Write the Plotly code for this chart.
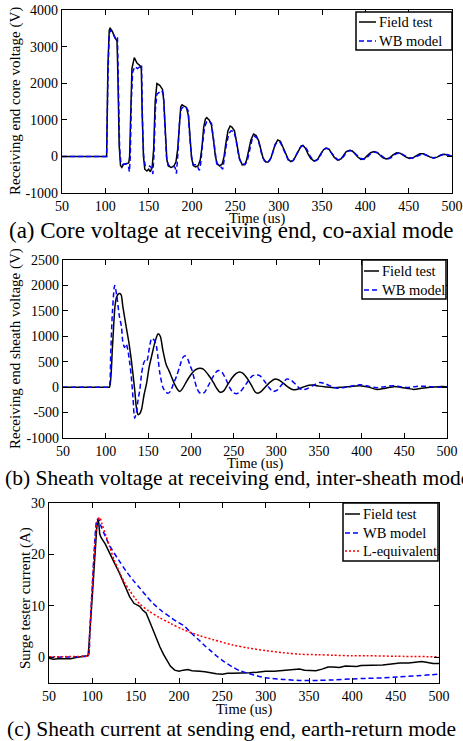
import plotly.graph_objects as go

# ---------------- Panel (a): core voltage, co-axial mode ----------------
a_field_t = [50, 101.5, 103, 104.5, 105.5, 108, 111, 113.5, 114.5, 116, 117.5, 119, 121, 124, 127, 128, 129.5, 130.7, 133.4, 136.5, 140, 141.5, 142.5, 144, 145.5, 148, 150, 152, 154, 155.8, 157.5, 159.5, 162.8, 166, 167.5, 169.3, 171, 173, 176, 179, 181.5, 183.5, 185.5, 187, 188.5, 191, 193.5, 196, 197.5, 199.5, 201.5, 204, 207, 209.5, 211.5, 213.5, 215.5, 217, 220, 222.5, 225, 227, 229, 232, 235, 237, 239, 241.5, 244, 246, 249, 251, 253, 255, 258, 261, 263, 265.5, 268, 271, 274, 277, 279.5, 282, 285, 288, 291, 293.5, 296, 299, 302, 305, 308, 311, 314, 317, 320, 323, 326, 328, 331, 334, 337, 341, 345, 348, 352, 355, 358, 361, 364, 368, 372, 375, 378, 382, 385, 388, 391, 395, 399, 402, 406, 410, 414, 417, 420, 424, 428, 432, 436, 440, 444, 447, 451, 455, 459, 463, 467, 471, 475, 479, 483, 487, 491, 495, 500]
a_field_v = [0, 0, 2500, 3450, 3500, 3420, 3250, 3150, 2200, 300, -250, -300, -220, -200, -180, 0, 1500, 2400, 2700, 2550, 2480, 2400, 1200, 0, -350, -400, -350, -420, -300, 200, 1500, 1990, 1940, 1830, 1500, 600, -100, -270, -300, -270, -150, 200, 1000, 1350, 1410, 1380, 1340, 1100, 500, -50, -250, -290, -260, -100, 250, 800, 1020, 1060, 990, 850, 400, 0, -200, -260, -200, 0, 350, 700, 830, 800, 700, 450, 150, -80, -230, -220, -100, 150, 450, 610, 570, 420, 150, -50, -150, -150, -50, 150, 330, 450, 410, 250, 60, -80, -140, -110, 20, 180, 290, 300, 220, 60, -60, -130, -80, 50, 190, 230, 200, 90, -20, -100, -70, 30, 130, 170, 150, 70, -10, -80, -60, 20, 100, 130, 100, 30, -30, -70, -40, 40, 100, 90, 30, -20, -55, -40, 20, 75, 70, 20, -20, -45, -20, 40, 60, 40, 0]

a_wb_t = [50, 101.5, 103, 104.5, 106, 109, 112, 114, 115, 116.5, 118, 120, 124, 126.5, 127.8, 128.8, 130, 131.5, 134, 137, 140, 141.8, 142.8, 144.2, 146, 150, 153, 154.8, 156, 157.8, 159.5, 162.5, 165, 167, 168.8, 170.5, 172.5, 177, 180.5, 182, 183.5, 185.5, 187.5, 190, 193, 195.5, 197.5, 199.5, 201.5, 205, 208.5, 210, 212, 214.5, 217, 220, 222.5, 224.5, 226.5, 228.5, 232, 235.5, 237, 239.5, 242.5, 245, 248, 250.5, 252.5, 254.5, 257.5, 261, 263.5, 266.5, 269.5, 272, 275, 277.5, 280.5, 283.5, 286.5, 289.5, 292.5, 296, 299, 302, 305, 308, 311, 314, 317, 320, 324, 327, 330, 333, 336, 340, 343, 347, 350, 354, 357, 360, 364, 368, 371, 375, 379, 383, 386, 390, 394, 398, 402, 406, 410, 414, 418, 422, 426, 430, 434, 438, 442, 446, 450, 454, 458, 462, 466, 470, 474, 478, 482, 486, 490, 494, 498, 500]
a_wb_v = [0, 0, 2200, 3350, 3450, 3350, 3200, 3250, 2000, 200, -200, -220, -200, -250, -420, 0, 1500, 2300, 2450, 2400, 2450, 2500, 1000, 0, -250, -250, -300, -480, 0, 1300, 1700, 1750, 1800, 1700, 800, 0, -250, -250, -300, -470, 0, 900, 1300, 1350, 1350, 1250, 500, 0, -230, -230, -380, -200, 300, 800, 950, 950, 900, 500, 50, -200, -250, -350, -100, 300, 620, 700, 680, 500, 200, -50, -200, -220, -150, 200, 480, 550, 510, 350, 50, -120, -150, -120, 50, 320, 400, 380, 230, 50, -100, -150, -100, 30, 220, 290, 280, 170, 20, -110, -120, -40, 120, 220, 210, 120, 0, -90, -90, 0, 130, 160, 130, 40, -50, -80, -30, 70, 120, 100, 30, -40, -70, -30, 50, 90, 70, 10, -40, -50, -10, 50, 70, 40, -10, -40, -30, 20, 60, 50, 10, 0]

# ---------------- Panel (b): sheath voltage, inter-sheath mode ----------------
b_field_t = [50, 100, 103, 104.5, 108, 111, 113, 115.7, 118, 120, 124, 127, 130, 134, 136, 138, 140, 142, 145, 148, 151, 154, 158, 161.5, 164, 167, 171, 174, 177, 181, 185, 187, 190, 195, 200, 205, 210, 214, 220, 226, 230, 234, 238, 243, 248, 253, 257, 261, 266, 271, 275, 278, 282, 287, 292, 298, 303, 308, 313, 318, 322, 327, 333, 338, 343, 350, 358, 368, 378, 388, 398, 408, 418, 428, 438, 445, 453, 461, 470, 480, 490, 500]
b_field_v = [0, 0, 0, 0, 800, 1600, 1780, 1840, 1820, 1600, 1190, 900, 540, -50, -400, -540, -520, -440, -150, 80, 400, 620, 900, 1050, 1000, 730, 440, 330, 210, 50, -60, -85, -30, 120, 250, 340, 373, 360, 250, 100, -20, -100, -80, 50, 180, 270, 300, 270, 170, 30, -90, -118, -90, 0, 90, 157, 140, 80, 10, -40, -52, -30, 10, 35, 40, 20, 5, -10, 0, 15, 26, 0, -45, -20, 10, 0, -20, -45, -20, 0, 10, 10]

b_wb_t = [50, 100, 102.5, 104, 106, 108, 110.6, 113, 116, 118.5, 120, 122, 124, 126, 128, 130, 132, 134, 136, 138, 140, 142, 144, 146, 148, 151, 154, 157, 159.5, 161.5, 163.5, 167, 170, 173, 176, 179, 183, 187, 190, 193, 196, 199, 201, 204, 206.5, 209, 212, 216, 220, 225, 229, 232, 236, 241, 245, 249, 253, 257, 262, 267, 272, 277, 281, 286, 291, 296, 301, 306, 312, 317, 323, 327, 330, 336, 343, 351, 358, 365, 371, 378, 387, 398, 408, 418, 427, 437, 445, 453, 462, 470, 480, 490, 500]
b_wb_v = [0, 0, 0, 0, 700, 1500, 2000, 1800, 1400, 1190, 900, 780, 850, 730, 500, 210, -200, -610, -500, -250, -50, 250, 440, 520, 500, 750, 960, 920, 800, 550, 275, 0, -90, -120, -80, 50, 210, 420, 570, 615, 560, 420, 340, 150, 0, -90, -130, -100, 20, 180, 290, 327, 300, 150, 0, -100, -130, -100, 0, 120, 220, 245, 220, 120, 0, -85, -60, 40, 157, 140, 50, -20, -52, -30, 30, 92, 60, 10, -20, -10, 20, 46, 20, -10, 10, 26, 10, -5, 10, 20, 10, 0, 0]

# ---------------- Panel (c): sheath current, earth-return mode ----------------
c_field_t = [50, 55, 60, 65, 70, 75, 80, 85, 90, 95, 96, 100, 103, 105, 106.5, 107.5, 108.5, 110, 115, 120, 125, 131.5, 137, 143, 148, 154.6, 158, 162, 166, 170, 174, 178, 182, 185, 190, 195, 200, 205, 210, 215, 220, 224, 230, 236, 243, 250, 256, 262, 270, 281.5, 290, 300, 310, 320, 330, 339, 345, 352, 358, 365, 372, 378, 385, 392, 397, 405, 410, 416, 425, 435, 445, 455, 465, 474, 480, 487, 493, 500]
c_field_i = [-0.2, -0.4, -0.3, -0.3, -0.2, -0.3, -0.1, 0.1, 0.2, 0.3, 2, 12, 20, 25, 26.8, 26, 24, 23.3, 22, 20.4, 18.5, 16.3, 14, 11.8, 10.5, 9.9, 9.2, 8.6, 7, 5.2, 3.5, 2, 0.6, -0.3, -1.7, -2.5, -2.7, -2.5, -2.4, -2.6, -2.6, -2.7, -2.8, -3, -3.2, -3.3, -3.1, -3.1, -3.0, -3.0, -2.9, -2.7, -2.7, -2.6, -2.5, -2.3, -2.5, -2.6, -2.6, -2.3, -1.9, -1.9, -2.0, -1.7, -1.7, -1.8, -1.6, -1.6, -1.5, -1.5, -1.3, -1.1, -1.1, -1.0, -0.8, -1.0, -1.2, -1.2]

c_wb_t = [50, 80, 90, 95, 97, 100, 103, 105, 107, 110, 115, 120, 130, 140, 147, 155, 162, 170, 180, 190, 197, 205, 212, 218, 224, 230, 237, 243, 250, 256, 262, 270, 281.5, 290, 300, 320, 339, 360, 378, 400, 416, 435, 455, 475, 490, 500]
c_wb_i = [0, 0.1, 0.15, 0.2, 5, 14, 23, 26.5, 27, 25.5, 23.5, 21.7, 19, 16.5, 15, 13.4, 12, 10.5, 9, 7.8, 7, 6.2, 5.1, 4.1, 3.2, 2.2, 1.2, 0.3, -0.6, -1.3, -1.9, -2.6, -3.2, -3.6, -4.0, -4.3, -4.5, -4.5, -4.4, -4.2, -4.1, -4.0, -3.8, -3.6, -3.4, -3.3]

c_leq_t = [50, 80, 90, 95, 97, 100, 103, 106, 108.5, 111, 115, 120, 125, 131.5, 137, 143, 150, 154.6, 165, 177.7, 190, 204.6, 224, 240, 262, 280, 300, 320, 339, 360, 378, 400, 416, 450, 500]
c_leq_i = [0.1, 0.15, 0.2, 0.3, 5, 14, 22, 26.5, 27.2, 26, 24, 21.5, 19, 16.5, 14.6, 13, 11.3, 10.4, 9, 7.7, 6.6, 5.4, 4.2, 3.4, 2.4, 1.8, 1.3, 0.9, 0.6, 0.5, 0.4, 0.3, 0.3, 0.2, 0.1]

# ---------------- Ticks / text ----------------
x_ticks = [50, 100, 150, 200, 250, 300, 350, 400, 450, 500]
a_yticks = [-1000, 0, 1000, 2000, 3000, 4000]
b_yticks = [-1000, -500, 0, 500, 1000, 1500, 2000, 2500]
c_yticks = [0, 10, 20, 30]
captions = ["(a) Core voltage at receiving end, co-axial mode",
            "(b) Sheath voltage at receiving end, inter-sheath mode",
            "(c) Sheath current at sending end, earth-return mode"]
ytitles = ["Receiving end core voltage (V)", "Receiving end sheath voltage (V)", "Surge tester current (A)"]
a_names = ["Field test", "WB model"]
b_names = ["Field test", "WB model"]
c_names = ["Field test", "WB model", "L-equivalent"]

W, H = 463, 741
FONT = "Times New Roman, Liberation Serif, serif"

def px(x):
    return x / W

def py(y):
    return 1 - y / H

BLACK = dict(color="black", width=1.5)
BLUE = dict(color="#0000FF", width=1.5, dash="5px,3px")
RED = dict(color="#FF0000", width=1.5, dash="2px,2px")

fig = go.Figure()
fig.add_trace(go.Scatter(x=a_field_t, y=a_field_v, mode="lines", line=BLACK, name=a_names[0], xaxis="x", yaxis="y"))
fig.add_trace(go.Scatter(x=a_wb_t, y=a_wb_v, mode="lines", line=BLUE, name=a_names[1], xaxis="x", yaxis="y"))
fig.add_trace(go.Scatter(x=b_field_t, y=b_field_v, mode="lines", line=dict(BLACK, shape="spline", smoothing=0.8), name=b_names[0], xaxis="x2", yaxis="y2"))
fig.add_trace(go.Scatter(x=b_wb_t, y=b_wb_v, mode="lines", line=dict(BLUE, shape="spline", smoothing=0.8), name=b_names[1], xaxis="x2", yaxis="y2"))
fig.add_trace(go.Scatter(x=c_field_t, y=c_field_i, mode="lines", line=BLACK, name=c_names[0], xaxis="x3", yaxis="y3"))
fig.add_trace(go.Scatter(x=c_wb_t, y=c_wb_i, mode="lines", line=dict(BLUE, shape="spline", smoothing=0.8), name=c_names[1], xaxis="x3", yaxis="y3"))
fig.add_trace(go.Scatter(x=c_leq_t, y=c_leq_i, mode="lines", line=dict(RED, shape="spline", smoothing=0.8), name=c_names[2], xaxis="x3", yaxis="y3"))

def axis_common():
    return dict(showline=True, linecolor="black", linewidth=1.3, mirror="ticks",
                ticks="inside", ticklen=5, tickcolor="black", showgrid=False,
                zeroline=False, automargin=False, fixedrange=True,
                tickfont=dict(family=FONT, size=14, color="black"))

# pixel boxes of the plot areas: (left, right, top, bottom)
boxes = [(62, 452, 10, 193), (63, 447, 260, 438), (49, 439, 503, 683)]
yranges = [[-1000, 4000], [-1000, 2500], [-5, 30]]
yticks = [a_yticks, b_yticks, c_yticks]

layout = dict(width=W, height=H, margin=dict(l=0, r=0, t=0, b=0, pad=0), autosize=False,
              paper_bgcolor="white", plot_bgcolor="white", showlegend=False,
              template="none", font=dict(family=FONT, color="black"))
for i, (l, r, t, b) in enumerate(boxes):
    sfx = "" if i == 0 else str(i + 1)
    xa = axis_common()
    xa.update(domain=[px(l), px(r)], range=[50, 500], tickvals=x_ticks,
              ticktext=[str(v) for v in x_ticks], anchor="y" + sfx)
    ya = axis_common()
    ya.update(domain=[py(b), py(t)], range=yranges[i], tickvals=yticks[i],
              ticktext=[str(v) for v in yticks[i]], anchor="x" + sfx)
    layout["xaxis" + sfx] = xa
    layout["yaxis" + sfx] = ya
fig.update_layout(**layout)

shapes = []
annos = []

# hand-drawn legends (box, line sample, label) in pixel positions
legends = [
    dict(box=(356, 452, 12, 50), rows=[22, 41], lx=(359, 376), names=a_names, styles=[BLACK, BLUE]),
    dict(box=(362, 446, 260, 299), rows=[271, 290], lx=(364, 379), names=b_names, styles=[BLACK, BLUE]),
    dict(box=(343, 438, 503, 561), rows=[514, 533, 551], lx=(345, 360), names=c_names, styles=[BLACK, BLUE, RED]),
]
for lg in legends:
    l, r, t, b = lg["box"]
    shapes.append(dict(type="rect", xref="paper", yref="paper", x0=px(l), x1=px(r), y0=py(b), y1=py(t),
                       line=dict(color="black", width=1.5), fillcolor="white", layer="above"))
    for yy, nm, st in zip(lg["rows"], lg["names"], lg["styles"]):
        shapes.append(dict(type="line", xref="paper", yref="paper", x0=px(lg["lx"][0]), x1=px(lg["lx"][1]),
                           y0=py(yy), y1=py(yy), line=dict(st), layer="above"))
        annos.append(dict(text=nm, x=px(lg["lx"][1] + 1), y=py(yy), xref="paper", yref="paper",
                          showarrow=False, xanchor="left", yanchor="middle",
                          font=dict(family=FONT, size=14.5, color="black")))

cap_y = [231, 478, 729]
xlab_y = [218, 463, 709]
for i, (l, r, t, b) in enumerate(boxes):
    annos.append(dict(text="Time (us)", x=px((l + r) / 2), y=py(xlab_y[i]), xref="paper", yref="paper",
                      showarrow=False, xanchor="center", yanchor="middle",
                      font=dict(family=FONT, size=14.5, color="black")))
annos.append(dict(text=captions[0], x=px(231), y=py(cap_y[0]), xref="paper", yref="paper",
                  showarrow=False, xanchor="center", yanchor="middle",
                  font=dict(family=FONT, size=23, color="black")))
annos.append(dict(text=captions[1], x=px(3), y=py(cap_y[1]), xref="paper", yref="paper",
                  showarrow=False, xanchor="left", yanchor="middle",
                  font=dict(family=FONT, size=21.5, color="black")))
annos.append(dict(text=captions[2], x=px(231), y=py(cap_y[2]), xref="paper", yref="paper",
                  showarrow=False, xanchor="center", yanchor="middle",
                  font=dict(family=FONT, size=21.5, color="black")))
ytitle_pos = [(15, 101), (15, 349), (25, 598)]
for i, (x, y) in enumerate(ytitle_pos):
    annos.append(dict(text=ytitles[i], x=px(x), y=py(y), xref="paper", yref="paper",
                      showarrow=False, xanchor="center", yanchor="middle", textangle=-90,
                      font=dict(family=FONT, size=15, color="black")))
fig.update_layout(shapes=shapes, annotations=annos)

fig.write_html("out.html", config={"displayModeBar": False},
               post_script="document.body.style.margin='0px';document.body.style.overflow='hidden';")
